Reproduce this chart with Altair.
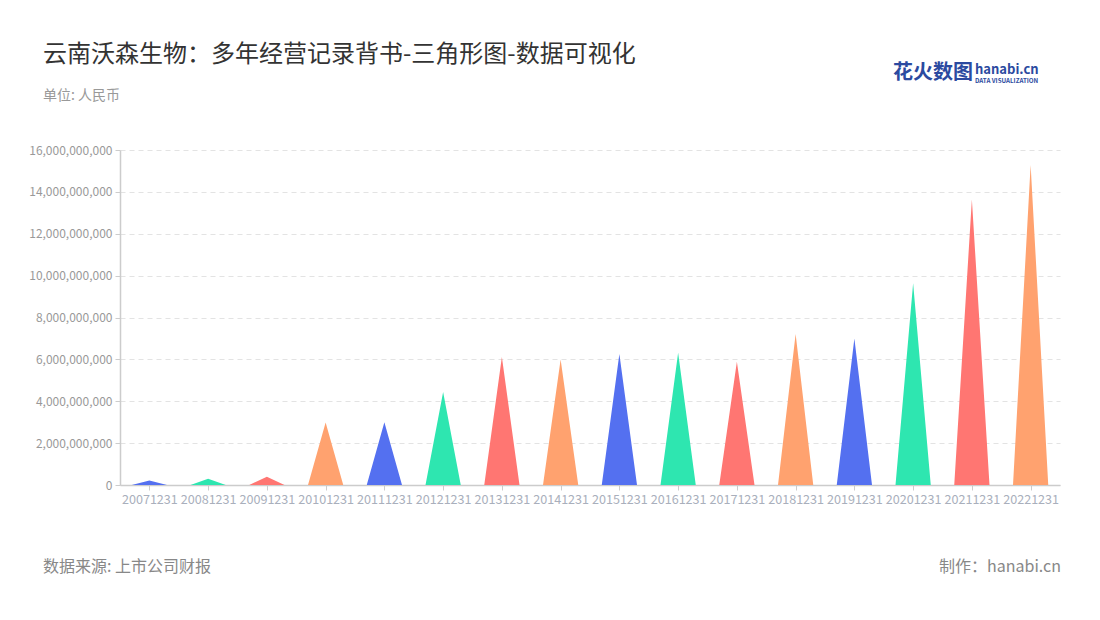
import json
import altair as alt
import pandas as pd

categories = ["20071231", "20081231", "20091231", "20101231", "20111231", "20121231",
              "20131231", "20141231", "20151231", "20161231", "20171231", "20181231",
              "20191231", "20201231", "20211231", "20221231"]
values = [0.22e9, 0.30e9, 0.40e9, 2.98e9, 3.00e9, 4.44e9, 6.11e9, 6.00e9,
          6.26e9, 6.32e9, 5.89e9, 7.21e9, 7.00e9, 9.63e9, 13.64e9, 15.28e9]
palette = ["#5470f0", "#2ee6b0", "#ff7672", "#ffa26f"]
y_ticks = [0, 2e9, 4e9, 6e9, 8e9, 10e9, 12e9, 14e9, 16e9]

title_text = "云南沃森生物：多年经营记录背书-三角形图-数据可视化"
subtitle_text = "单位: 人民币"
source_text = "数据来源: 上市公司财报"
maker_text = "制作：hanabi.cn"

FONT = "Noto Sans CJK SC"
HALF = 0.3

rows = []
for i, (c, v) in enumerate(zip(categories, values)):
    for dx, yv in ((-HALF, 0.0), (0.0, v), (HALF, 0.0)):
        rows.append({"cat": c, "idx": i, "x": i + dx, "y": yv})
df = pd.DataFrame(rows)

label_expr = json.dumps(categories) + "[round(datum.value)]"

tri = alt.Chart(df).mark_area(opacity=1).encode(
    x=alt.X("x:Q",
            scale=alt.Scale(domain=[-0.5, len(categories) - 0.5], nice=False, zero=False),
            axis=alt.Axis(values=list(range(len(categories))), labelExpr=label_expr,
                          grid=False, title=None, domainColor="#cccccc", domainWidth=1.5,
                          tickColor="#cccccc", tickSize=5, labelColor="#a9afbc",
                          labelFontSize=12.6, labelFont=FONT, labelPadding=3,
                          labelFlush=False, labelOverlap=False)),
    y=alt.Y("y:Q",
            scale=alt.Scale(domain=[0, 16e9], nice=False),
            axis=alt.Axis(values=y_ticks, format=",d", title=None,
                          domainColor="#cccccc", domainWidth=1.5, tickColor="#cccccc",
                          tickSize=5, labelColor="#999999", labelFontSize=12,
                          labelFont=FONT, labelPadding=3,
                          gridColor="#e3e3e3", gridDash=[5, 4])),
    color=alt.Color("cat:N",
                    scale=alt.Scale(domain=categories,
                                    range=[palette[i % 4] for i in range(len(categories))]),
                    legend=None),
    detail="cat:N",
)


def txt(text, x, y, size, color, align="left", weight="normal", font=FONT):
    return alt.Chart(pd.DataFrame({"t": [text]})).mark_text(
        align=align, baseline="middle", fontSize=size, color=color,
        fontWeight=weight, font=font
    ).encode(text="t:N", x=alt.value(x), y=alt.value(y))


layers = [
    tri,
    txt(title_text, -77, -95, 24, "#333333"),
    txt(subtitle_text, -77, -54, 14, "#999999"),
    txt(source_text, -77, 417, 16, "#888888"),
    txt(maker_text, 941, 417, 16, "#888888", align="right"),
    txt("花火数图", 773, -77, 20, "#2b4aa0", weight="bold"),
    txt("hanabi.cn", 855, -80, 13, "#2b4aa0", weight="bold"),
    txt("DATA VISUALIZATION", 855, -69, 6.2, "#2b4aa0", weight="bold"),
]

chart = alt.layer(*layers).properties(
    width=940, height=335,
    background="white",
    autosize=alt.AutoSizeParams(type="none"),
    padding={"left": 112, "top": 142, "right": 24, "bottom": 110},
).configure_view(stroke=None)

chart.save("out.html", embed_options={"renderer": "svg", "actions": False})
